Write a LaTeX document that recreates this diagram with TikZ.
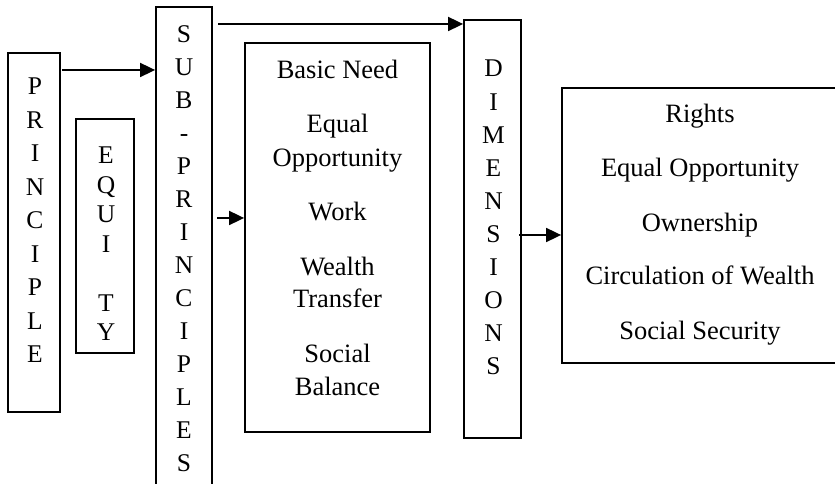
\documentclass[tikz,border=0pt]{standalone}
\usepackage{fontspec}
\setmainfont{Liberation Serif}
\usetikzlibrary{arrows.meta}
\begin{document}
\begin{tikzpicture}[x=1pt,y=1pt,
  box/.style={draw, line width=1.8pt, inner sep=0pt},
  letter/.style={anchor=base, inner sep=0pt, font=\fontsize{25.5}{30}\selectfont},
  item/.style={anchor=base, inner sep=0pt, font=\fontsize{26.5}{32}\selectfont},
  arr/.style={line width=1.8pt, -{Triangle[length=15pt,width=14pt]}}]
\useasboundingbox (0,0) rectangle (835,484);
\clip (0,0) rectangle (835,484);
% boxes
\node[box, minimum width=52pt, minimum height=359pt] (pr) at (34,251.5) {};
\node[box, minimum width=58pt, minimum height=234pt] (eq) at (105,248) {};
\node[box, minimum width=56pt, minimum height=487pt] (sub) at (184,233.5) {};
\node[box, minimum width=185pt, minimum height=389pt] (basic) at (337.5,246.5) {};
\node[box, minimum width=57pt, minimum height=418pt] (dim) at (492.5,255) {};
\node[box, minimum width=276pt, minimum height=275pt] (right) at (700,258.5) {};
% vertical letters
\foreach \l [count=\i from 0] in {P,R,I,N,C,I,P,L,E}
  \node[letter] (prl\i) at (35,389-\i*33.5) {\l};
\foreach \l/\k in {E/0,Q/1,U/2,I/3,T/5,Y/6}
  \node[letter] (eql\k) at (106,320-\k*29.5) {\l};
\foreach \l [count=\i from 0] in {S,U,B,-,P,R,I,N,C,I,P,L,E,S}
  \node[letter] (subl\i) at (184,441-\i*33) {\l};
\foreach \l [count=\i from 0] in {D,I,M,E,N,S,I,O,N,S}
  \node[letter] (diml\i) at (493.5,407-\i*33.1) {\l};
% sub-principles list
\node[item] (b1) at (337.5,405) {Basic Need};
\node[item] (b2) at (337.5,351) {Equal};
\node[item] (b3) at (337.5,317) {Opportunity};
\node[item] (b4) at (337.5,263) {Work};
\node[item] (b5) at (337.5,208) {Wealth};
\node[item] (b6) at (337.5,176) {Transfer};
\node[item] (b7) at (337.5,121) {Social};
\node[item] (b8) at (337.5,88) {Balance};
% dimensions list
\node[item] (r1) at (700,361) {Rights};
\node[item] (r2) at (700,307) {Equal Opportunity};
\node[item] (r3) at (700,252) {Ownership};
\node[item] (r4) at (700,199) {Circulation of Wealth};
\node[item] (r5) at (700,144) {Social Security};
% connectors
\coordinate (a1s) at (62,414);
\coordinate (a2s) at (218,460);
\coordinate (a3s) at (217,266);
\coordinate (a4s) at (519,249);
\draw[arr] (a1s) -- (sub.west |- a1s);
\draw[arr] (a2s) -- (dim.west |- a2s);
\draw[arr] (a3s) -- (basic.west |- a3s);
\draw[arr] (a4s) -- (right.west |- a4s);
\end{tikzpicture}
\end{document}
